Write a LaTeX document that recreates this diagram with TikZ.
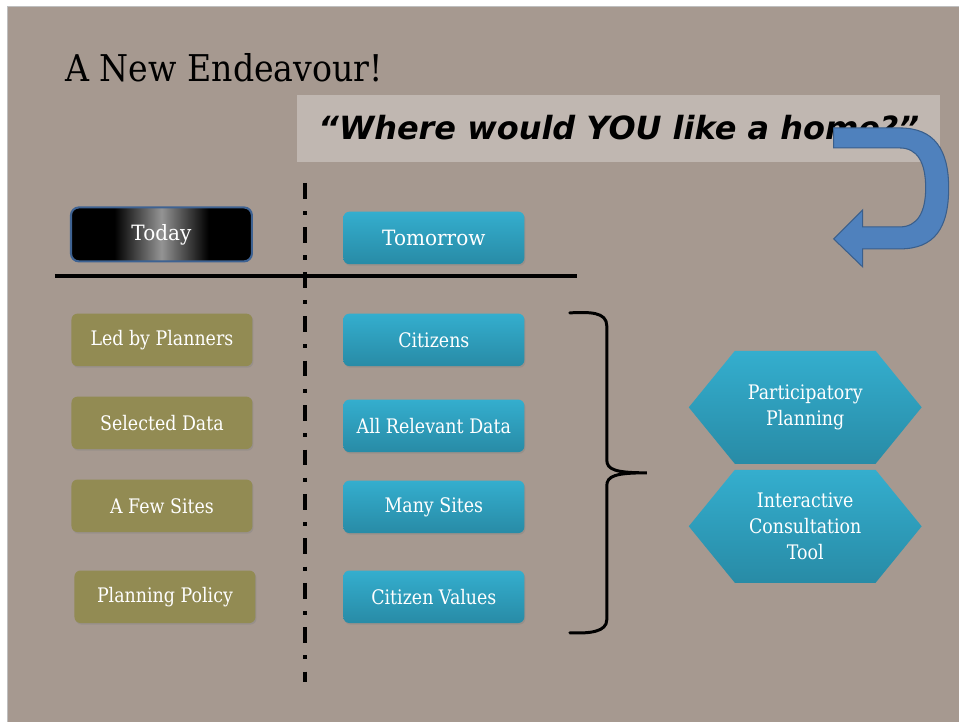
\documentclass[tikz,border=0pt]{standalone}
\usepackage{fontspec}
\setmainfont{DejaVu Serif}
\newfontfamily\boxfont[FakeStretch=0.87]{DejaVu Serif}
\newfontfamily\headfont[FakeStretch=0.95]{DejaVu Serif}
\newfontfamily\titlefont[FakeStretch=0.9]{DejaVu Serif}
\newfontfamily\quotefont{DejaVu Sans}
\usetikzlibrary{shapes.symbols,shadows}
\definecolor{slab}{RGB}{166,153,144}
\definecolor{tealtop}{RGB}{52,174,206}
\definecolor{tealbot}{RGB}{40,139,166}
\definecolor{olive}{RGB}{146,139,83}
\definecolor{arrowblue}{RGB}{79,129,189}
\definecolor{arrowedge}{RGB}{58,95,140}
\definecolor{todayedge}{RGB}{62,98,146}
\pgfdeclarehorizontalshading{todayshine}{100bp}{color(0bp)=(black); color(37bp)=(black); color(50bp)=(black!42); color(63bp)=(black); color(100bp)=(black)}
\begin{document}
\begin{tikzpicture}[x=0.02cm,y=-0.02cm,
  boxshadow/.style={drop shadow={shadow xshift=.6pt,shadow yshift=-.9pt,opacity=.35}},
  olivebox/.style={rectangle,rounded corners=3.4pt,fill=olive,boxshadow,minimum width=3.62cm,minimum height=1.05cm,text=white,font=\boxfont\fontsize{11.4}{13}\selectfont},
  tealbox/.style={rectangle,rounded corners=3.4pt,top color=tealtop,bottom color=tealbot,boxshadow,minimum width=3.62cm,minimum height=1.05cm,text=white,font=\boxfont\fontsize{11.4}{13}\selectfont},
  headbox/.style={tealbox,font=\headfont\fontsize{12}{14}\selectfont},
  todaybox/.style={rectangle,rounded corners=4.5pt,shading=todayshine,draw=todayedge,line width=1.2pt,minimum width=3.62cm,minimum height=1.08cm,text=white,font=\headfont\fontsize{12}{14}\selectfont},
  hexbox/.style={signal,signal to=east and west,signal pointer angle=101.6,top color=tealtop,bottom color=tealbot,minimum width=4.66cm,minimum height=2.26cm,inner sep=0pt,text=white,align=center,font=\boxfont\fontsize{11.4}{14.8}\selectfont}]
% slide background
\fill[white] (0,0) rectangle (959,722);
\fill[slab] (7,6) rectangle (959,722);
\draw[black!25,line width=.4pt] (7,722) -- (7,6) -- (959,6);
% heading and question
\draw (65,82) node[anchor=base west,inner sep=0pt,font=\titlefont\fontsize{21}{25}\selectfont] (title) {A New Endeavour!};
\draw (297,95) node[anchor=north west,fill=white,fill opacity=.3,minimum width=12.86cm,minimum height=1.34cm,inner sep=0pt] (band) {};
\draw (619,140) node[anchor=base,inner sep=0pt,font=\quotefont\bfseries\itshape\fontsize{18.2}{21}\selectfont] (quote) {“Where would YOU like a home?”};
% u-turn arrow
\filldraw[fill=arrowblue,draw=arrowedge,line width=.6pt] (834,128) -- (900,128)
  .. controls (935,128) and (949,150) .. (949,188)
  .. controls (949,228) and (935,249) .. (900,249) -- (863,249) -- (863,267) -- (834,239)
  -- (863,210) -- (863,227) -- (900,227)
  .. controls (918,227) and (926,212) .. (926,188)
  .. controls (926,163) and (918,148) .. (900,148) -- (834,148) -- cycle;
% dividers
\coordinate (hl) at (55,276);
\coordinate (hr) at (577,276);
\coordinate (vt) at (305,183);
\coordinate (vb) at (305,682);
\draw[line width=1.9pt] (hl) -- (hr);
\draw[line width=2.2pt,dash pattern=on 9pt off 7pt on 2.3pt off 7pt] (vt) -- (vb);
% column heads
\draw (161.5,234.5) node[todaybox] (today) {Today};
\draw (434,238) node[headbox] (tomorrow) {Tomorrow};
% today column
\draw (162,340) node[olivebox] (led) {Led by Planners};
\draw (162,423) node[olivebox] (sel) {Selected Data};
\draw (162,506) node[olivebox] (few) {A Few Sites};
\draw (165,597) node[olivebox] (policy) {Planning Policy};
% tomorrow column
\draw (434,340) node[tealbox] (cit) {Citizens};
\draw (434,426) node[tealbox] (allrel) {All Relevant Data};
\draw (434,507) node[tealbox] (many) {Many Sites};
\draw (434,597) node[tealbox] (values) {Citizen Values};
% brace
\draw[line width=1.7pt,line cap=round] (570,313) .. controls (590,312) and (607,312) .. (607,326)
  -- (607,460) .. controls (607,470) and (616,473) .. (647,473)
  .. controls (616,473) and (607,476) .. (607,486) -- (607,620)
  .. controls (607,632) and (590,634) .. (570,633);
% outcomes
\draw (805.5,407.5) node[hexbox] (part) {Participatory\\Planning};
\draw (805.5,526.5) node[hexbox] (tool) {Interactive\\Consultation\\Tool};
\end{tikzpicture}
\end{document}
